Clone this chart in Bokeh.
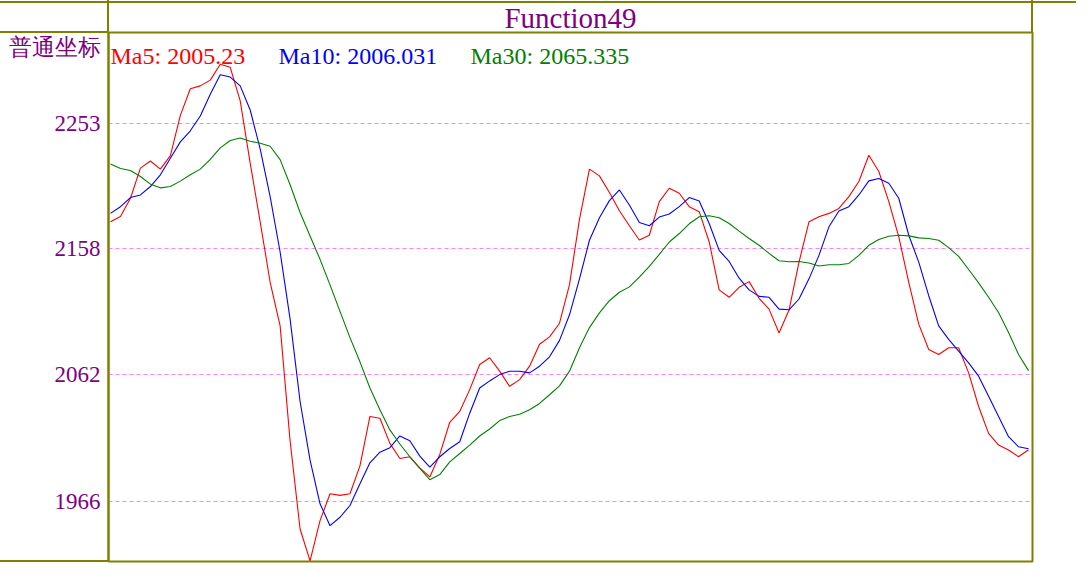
from bokeh.plotting import figure
from bokeh.models import Range1d, FixedTicker
from bokeh.embed import file_html
from bokeh.resources import INLINE

# ---------------- data ----------------
ma5 = [2178.3, 2182.4, 2196.2, 2219.1, 2224.5, 2218.3, 2228.5, 2259.1, 2279.3, 2281.5,
       2285.9, 2297.9, 2295.6, 2270.1, 2222.9, 2178.3, 2132.4, 2099.3, 2011.9, 1945.1,
       1920.9, 1951.4, 1971.8, 1970.6, 1971.8, 1993.0, 2030.5, 2029.2, 2010.1, 1998.6,
       1999.9, 1991.5, 1984.6, 2001.7, 2026.1, 2034.3, 2050.9, 2070.0, 2075.1, 2064.9,
       2053.4, 2058.5, 2068.7, 2085.3, 2090.9, 2101.3, 2130.6, 2180.1, 2218.3, 2213.2,
       2200.5, 2186.7, 2175.3, 2164.5, 2168.1, 2193.6, 2203.8, 2200.0, 2189.8, 2186.0,
       2163.0, 2126.6, 2121.0, 2128.6, 2132.9, 2120.2, 2112.0, 2093.9, 2111.3, 2147.7,
       2178.3, 2182.1, 2184.7, 2188.5, 2197.4, 2208.9, 2228.8, 2216.5, 2193.6, 2166.8,
       2132.4, 2100.6, 2081.4, 2077.6, 2082.7, 2082.7, 2063.6, 2038.1, 2017.7, 2008.8,
       2005.0, 1999.9, 2005.23]
ma10 = [2184.7, 2189.8, 2196.7, 2198.7, 2205.1, 2214.0, 2226.5, 2239.0, 2247.4, 2258.6,
        2275.2, 2290.0, 2288.2, 2281.5, 2263.2, 2233.6, 2197.4, 2155.4, 2104.4, 2041.9,
        1997.3, 1964.2, 1947.6, 1954.0, 1962.9, 1979.5, 1995.3, 2003.4, 2006.8, 2015.7,
        2012.1, 2000.4, 1992.0, 1999.9, 2006.2, 2011.3, 2033.0, 2052.1, 2057.5, 2062.3,
        2064.9, 2064.9, 2063.6, 2068.7, 2075.8, 2088.3, 2107.7, 2135.0, 2164.3, 2181.4,
        2194.4, 2202.5, 2191.1, 2177.8, 2175.3, 2181.9, 2184.2, 2189.8, 2196.7, 2194.1,
        2177.0, 2156.6, 2148.2, 2135.5, 2126.6, 2121.7, 2121.0, 2112.0, 2111.5, 2119.7,
        2135.0, 2152.8, 2174.5, 2186.5, 2189.8, 2198.7, 2209.4, 2211.2, 2207.6, 2196.2,
        2168.1, 2147.7, 2122.2, 2099.3, 2089.1, 2080.2, 2071.2, 2061.1, 2045.8, 2030.5,
        2015.2, 2007.5, 2006.031]
ma30 = [2222.2, 2218.8, 2217.3, 2212.7, 2206.9, 2204.1, 2205.1, 2209.2, 2214.0, 2218.3,
        2225.7, 2234.4, 2240.0, 2242.0, 2239.5, 2238.0, 2235.7, 2225.5, 2206.4, 2185.4,
        2167.6, 2149.8, 2130.4, 2110.3, 2090.4, 2072.0, 2052.1, 2035.6, 2020.3, 2009.6,
        1999.9, 1991.0, 1982.5, 1986.4, 1996.0, 2002.4, 2008.8, 2015.7, 2021.0, 2027.4,
        2030.5, 2032.2, 2035.6, 2040.4, 2047.0, 2053.7, 2064.9, 2082.7, 2098.0, 2109.2,
        2118.4, 2124.8, 2128.9, 2136.3, 2144.4, 2153.6, 2163.0, 2169.4, 2176.8, 2182.1,
        2182.9, 2181.4, 2177.0, 2171.2, 2165.6, 2160.5, 2154.3, 2148.7, 2148.0, 2148.2,
        2147.0, 2144.7, 2145.7, 2145.7, 2146.7, 2152.8, 2160.5, 2164.8, 2167.4, 2168.1,
        2167.6, 2166.1, 2165.6, 2164.3, 2158.7, 2152.1, 2142.1, 2131.9, 2121.0, 2109.5,
        2094.2, 2077.6, 2065.335]
y_tick_values = [1966.33, 2062.0, 2157.67, 2253.33]
y_tick_labels = ["1966", "2062", "2158", "2253"]
series_names = ["Ma5", "Ma10", "Ma30"]
series_colors = ["#ff0000", "#0000ff", "#008000"]
title_text = "Function49"
axis_caption = "普通坐标"

# ---------------- layout ----------------
W, H = 1076, 563
ML, MR, MT, MB = 108, 44, 32, 2
FW = W - ML - MR
FH = H - MT - MB
x_start, x_end = -0.2, len(ma5) - 1 + 0.4

# vertical scale: grid lines 126 px apart, top grid line on a pixel centre
tick_step = (y_tick_values[-1] - y_tick_values[0]) / (len(y_tick_values) - 1)
px_per_unit = 126 / tick_step
y_end = y_tick_values[-1] + (122.5 - MT) / px_per_unit
y_start = y_end - FH / px_per_unit

def xd(fx):
    return x_start + (fx - ML) * (x_end - x_start) / FW

def yd(fy):
    return y_end - (fy - MT) / px_per_unit

OLIVE = "#808000"
PURPLE = "#800080"
SERIF = "Liberation Serif"

p = figure(width=W, height=H, output_backend="svg", toolbar_location=None,
           x_range=Range1d(x_start, x_end), y_range=Range1d(y_start, y_end),
           x_axis_location=None, y_axis_location="left",
           min_border_left=ML, min_border_right=MR, min_border_top=MT, min_border_bottom=MB)
p.background_fill_color = "white"
p.border_fill_alpha = 0.0
p.outline_line_color = OLIVE
p.outline_line_width = 2

# title over the plot area
p.title.text = title_text
p.title.align = "center"
p.title.text_font = SERIF
p.title.text_font_size = "29px"
p.title.text_font_style = "normal"
p.title.text_color = PURPLE
p.title.standoff = -3
p.title.offset = 0

# decorative olive rules outside the plot area (cell borders of the original widget)
rules = [(0, 1, W, 2), (ML - 1, 0, 2, MT), (ML + FW - 1, 0, 2, MT),
         (0, MT - 1, ML, 2), (0, H - MB - 1, ML, 2)]
p.styles = {
    "background-image": ", ".join([f"linear-gradient({OLIVE}, {OLIVE})"] * len(rules)),
    "background-size": ", ".join(f"{w}px {h}px" for (_, _, w, h) in rules),
    "background-position": ", ".join(f"{x}px {y}px" for (x, y, _, _) in rules),
    "background-repeat": "no-repeat",
}

# y axis: value ticks plus the caption as a labelled mark at the top
cap_val = round(yd(47), 3)
overrides = {v: lab for v, lab in zip(y_tick_values, y_tick_labels)}
overrides[cap_val] = axis_caption
p.yaxis.ticker = FixedTicker(ticks=y_tick_values + [cap_val])
p.yaxis.major_label_overrides = overrides
p.yaxis.axis_line_color = OLIVE
p.yaxis.axis_line_width = 2
p.yaxis.major_tick_line_color = None
p.yaxis.minor_tick_line_color = None
p.yaxis.major_label_standoff = 2
p.yaxis.major_label_text_color = PURPLE
p.yaxis.major_label_text_font = SERIF
p.yaxis.major_label_text_font_size = "23px"

p.xgrid.visible = False
p.ygrid.ticker = FixedTicker(ticks=y_tick_values)
p.ygrid.grid_line_color = "#ff80ff"
p.ygrid.grid_line_dash = "4 3"
p.ygrid.grid_line_width = 1

idx = list(range(len(ma5)))
for vals, col in zip([ma5, ma10, ma30], series_colors):
    p.line(idx, vals, line_color=col, line_width=1.1)

# legend texts with the latest values
for name, vals, col, fx in zip(series_names, [ma5, ma10, ma30], series_colors, [110, 278, 470]):
    p.text(x=[xd(fx)], y=[yd(55)], text=[f"{name}: {vals[-1]}"], text_align="left",
           text_baseline="alphabetic", text_font={"value": SERIF}, text_font_size="24px",
           text_color=col)

open("out.html", "w").write(file_html(p, INLINE))
